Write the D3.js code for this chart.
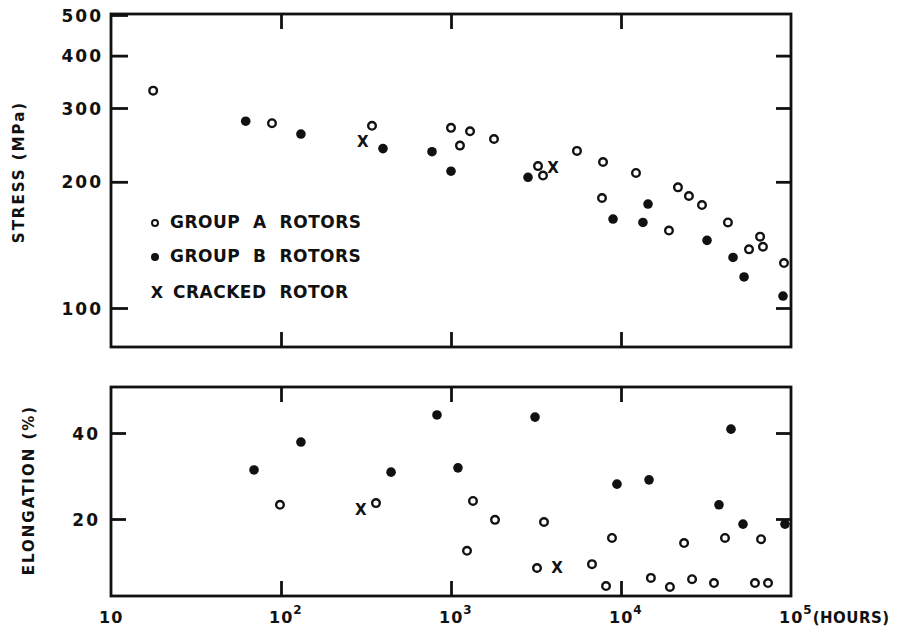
<!DOCTYPE html>
<html><head><meta charset="utf-8">
<script src="https://cdn.jsdelivr.net/npm/d3@7"></script>
<style>
html,body{margin:0;padding:0;background:#fff;}
text{font-family:"DejaVu Sans",sans-serif;fill:#111;font-weight:bold;}
</style></head>
<body>
<svg id="chart" width="905" height="632"></svg>
<script>
// ---- data (hours, value) ----
const stressGroupA = [[17.7,330],[88.5,276],[343,272],[1000,269],[1129,244],[1294,264],[1790,253],[3250,218],[3477,207],[5508,237],[7731,183],[7839,223],[12250,210],[19150,153],[21630,194],[25100,185],[29950,176],[42560,160],[56620,138],[65770,148],[68390,140],[90950,128]];
const stressGroupB = [[62,279],[131,260],[398,240],[773,236],[1000,212],[2838,205],[8977,163],[13460,160],[14420,177],[32060,145],[45600,132],[52960,118.6],[89740,106.8]];
const stressCracked = [[303,250],[3981,216]];
const elongGroupA = [[98.6,23.3],[362,23.7],[1242,12.6],[1347,24.2],[1815,19.8],[3206,8.6],[3524,19.3],[6750,9.5],[8166,4.4],[8850,15.6],[14990,6.3],[19400,4.2],[23500,14.4],[26180,6.0],[35240,5.1],[40900,15.6],[61380,5.1],[66650,15.3],[73250,5.1]];
const elongGroupB = [[69.4,31.4],[131,37.9],[444,30.9],[827,44.2],[1099,31.9],[3121,43.7],[9470,28.1],[14620,29.1],[37700,23.3],[44360,40.9],[52200,18.8],[92200,18.8]];
const elongCracked = [[295,22.1],[4207,8.8]];
const xTickValues = [10,100,1000,10000,100000];
const stressTicks = [100,200,300,400,500];
const elongTicks = [20,40];
const legendLabels = ["GROUP  A  ROTORS","GROUP  B  ROTORS","CRACKED  ROTOR"];

const svg = d3.select("#chart");
svg.append("rect").attr("width",905).attr("height",632).attr("fill","#fff");

const x = d3.scaleLog().domain([10,1e5]).range([111,791]);
const yS = d3.scaleLog().domain([100,500]).range([308,15]);
const yE = d3.scaleLinear().domain([20,40]).range([519,433]);

const topP = {t:14, b:347};
const botP = {t:387, b:596};
const SW = 2.8;

function frame(t,b){
  svg.append("rect").attr("x",x(10)).attr("y",t).attr("width",x(1e5)-x(10)).attr("height",b-t)
    .attr("fill","none").attr("stroke","#111").attr("stroke-width",SW);
}
frame(topP.t, topP.b);
frame(botP.t, botP.b);

function styleAxis(g){
  g.select(".domain").remove();
  g.selectAll(".tick line").attr("stroke","#111").attr("stroke-width",SW);
}
const inner = [100,1000,10000];
[[topP.t,"top"],[topP.b,"bottom"],[botP.t,"top"],[botP.b,"bottom"]].forEach(([yy,side])=>{
  const ax = (side==="top"?d3.axisTop(x):d3.axisBottom(x)).tickValues(inner).tickSize(-15).tickFormat("");
  svg.append("g").attr("transform",`translate(0,${yy})`).call(ax).call(styleAxis);
});
svg.append("g").attr("transform",`translate(${x(10)},0)`)
  .call(d3.axisLeft(yS).tickValues(stressTicks).tickSize(-17).tickPadding(8).tickFormat(d3.format("d")))
  .call(styleAxis)
  .call(g=>g.selectAll("text").style("font-size","17px").style("letter-spacing","2px").style("font-weight","bold").attr("dy","0.36em"));
svg.append("g").attr("transform",`translate(${x(1e5)},0)`)
  .call(d3.axisRight(yS).tickValues([100,200,300,400]).tickSize(-15).tickFormat(""))
  .call(styleAxis);
svg.append("g").attr("transform",`translate(${x(10)},0)`)
  .call(d3.axisLeft(yE).tickValues(elongTicks).tickSize(-15).tickPadding(11).tickFormat(d3.format("d")))
  .call(styleAxis)
  .call(g=>g.selectAll("text").style("font-size","17px").style("letter-spacing","2px").style("font-weight","bold").attr("dy","0.36em"));
svg.append("g").attr("transform",`translate(${x(1e5)},0)`)
  .call(d3.axisRight(yE).tickValues(elongTicks).tickSize(-15).tickFormat(""))
  .call(styleAxis);

xTickValues.forEach(v=>{
  const e = Math.round(Math.log10(v));
  const t = svg.append("text").attr("x",x(v)-12).attr("y",623).style("font-size","16px").style("letter-spacing","1px");
  t.append("tspan").text("10");
  if(e>1) t.append("tspan").attr("dy",-9).style("font-size","12px").text(String(e));
  if(e===5) t.append("tspan").attr("dy",9).style("font-size","15px").style("letter-spacing","0.5px").text("(HOURS)");
});

svg.append("text").attr("transform","translate(24,172) rotate(-90)").attr("text-anchor","middle")
  .style("font-size","15px").style("letter-spacing","2px").text("STRESS (MPa)");
svg.append("text").attr("transform","translate(34,490) rotate(-90)").attr("text-anchor","middle")
  .style("font-size","15px").style("letter-spacing","2px").text("ELONGATION (%)");

function draw(data, y, kind){
  const g = svg.append("g");
  if(kind==="A"){
    g.selectAll("circle").data(data).join("circle")
      .attr("cx",d=>x(d[0])).attr("cy",d=>y(d[1])).attr("r",3.8)
      .attr("fill","#fff").attr("stroke","#111").attr("stroke-width",2.4);
  } else if(kind==="B"){
    g.selectAll("circle").data(data).join("circle")
      .attr("cx",d=>x(d[0])).attr("cy",d=>y(d[1])).attr("r",4.8).attr("fill","#111");
  } else {
    g.selectAll("text").data(data).join("text")
      .attr("x",d=>x(d[0])).attr("y",d=>y(d[1])).attr("text-anchor","middle").attr("dy","0.36em")
      .style("font-size","15px").text("X");
  }
}
draw(stressGroupA, yS, "A");
draw(stressGroupB, yS, "B");
draw(stressCracked, yS, "X");
draw(elongGroupA, yE, "A");
draw(elongGroupB, yE, "B");
draw(elongCracked, yE, "X");

const lg = svg.append("g");
lg.append("circle").attr("cx",155).attr("cy",223).attr("r",3).attr("fill","#fff").attr("stroke","#111").attr("stroke-width",2);
lg.append("circle").attr("cx",155).attr("cy",257).attr("r",4).attr("fill","#111");
lg.append("text").attr("x",157).attr("y",292).attr("text-anchor","middle").attr("dy","0.36em").style("font-size","16px").text("X");
[[170,222],[170,256],[173,292]].forEach((p,i)=>{
  lg.append("text").attr("x",p[0]).attr("y",p[1]).attr("dy","0.36em")
    .style("font-size","17px").style("letter-spacing","0.5px").attr("xml:space","preserve")
    .text(legendLabels[i]);
});
</script>
</body></html>
